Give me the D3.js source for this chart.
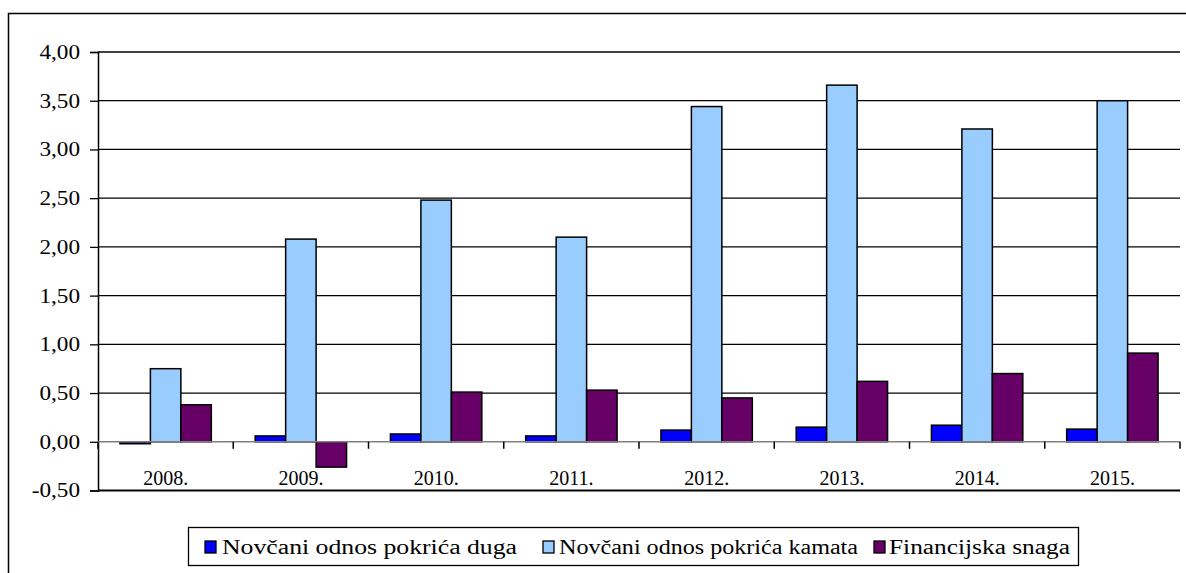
<!DOCTYPE html>
<html>
<head>
<meta charset="utf-8">
<script src="https://cdn.jsdelivr.net/npm/d3@7"></script>
<style>
  body { margin: 0; background: #fff; }
  svg { display: block; }
  svg text { font-family: "Liberation Serif", "Times New Roman", serif !important; fill: #000; }
</style>
</head>
<body>
<svg id="chart" width="1186" height="573"></svg>
<script>
var years = ['2008.', '2009.', '2010.', '2011.', '2012.', '2013.', '2014.', '2015.'];
var seriesNames = ['Novčani odnos pokrića duga', 'Novčani odnos pokrića kamata', 'Financijska snaga'];
var pokriceDuga = [-0.02, 0.06, 0.08, 0.06, 0.12, 0.15, 0.17, 0.13];
var pokriceKamata = [0.75, 2.08, 2.48, 2.10, 3.44, 3.66, 3.21, 3.50];
var financijskaSnaga = [0.38, -0.26, 0.51, 0.53, 0.45, 0.62, 0.70, 0.91];
var yTicks = [-0.5, 0, 0.5, 1, 1.5, 2, 2.5, 3, 3.5, 4];
var colors = ['#0000ff', '#99ccff', '#660066'];

var svg = d3.select('#chart');
var plotLeft = 98, plotRight = 1180, plotTop = 52, plotBottom = 490.5;

// outer frame, cut off at right and bottom like in the original
svg.append('rect')
    .attr('x', 8.5).attr('y', 13.5)
    .attr('width', 1200).attr('height', 600)
    .attr('fill', 'none').attr('stroke', '#000').attr('stroke-width', 1.5);

var y = d3.scaleLinear().domain([-0.5, 4]).range([plotBottom, plotTop]);
var x0 = d3.scaleBand().domain(years).range([plotLeft, plotRight]).paddingInner(0).paddingOuter(0);
var x1 = d3.scaleBand().domain([0, 1, 2]).range([0, x0.bandwidth()]).paddingInner(0).paddingOuter(0.72);

// gridlines
svg.append('g').selectAll('line')
    .data(yTicks.filter(function(d) { return d != 0 && d != -0.5; }))
    .join('line')
    .attr('x1', plotLeft).attr('x2', plotRight)
    .attr('y1', function(d) { return y(d); }).attr('y2', function(d) { return y(d); })
    .attr('stroke', '#000').attr('stroke-width', 1.3);

// y axis
var yAxis = d3.axisLeft(y).tickValues(yTicks).tickSize(8).tickPadding(10)
    .tickFormat(function(d) { return d3.format('.2f')(d).replace('.', ',').replace('\u2212', '-'); });
var gy = svg.append('g').attr('transform', 'translate(' + plotLeft + ',0)').call(yAxis);
gy.attr('font-family', null).attr('font-size', null);
gy.select('.domain').attr('stroke', '#000').attr('stroke-width', 1.5);
gy.selectAll('.tick line').attr('stroke', '#000').attr('stroke-width', 1.3);
gy.selectAll('.tick text').attr('font-size', 20).attr('fill', '#000')
    .each(function() {
        // labels in the original are a bit wider than plain Times
        var w = this.getComputedTextLength();
        d3.select(this).attr('textLength', w * 1.16).attr('lengthAdjust', 'spacingAndGlyphs');
    });

// bars
var data = [pokriceDuga, pokriceKamata, financijskaSnaga];
data.forEach(function(vals, s) {
    svg.append('g').selectAll('rect')
        .data(vals)
        .join('rect')
        .attr('x', function(d, i) { return x0(years[i]) + x1(s); })
        .attr('width', x1.bandwidth())
        .attr('y', function(d) { return y(Math.max(0, d)); })
        .attr('height', function(d) { return Math.abs(y(d) - y(0)); })
        .attr('fill', colors[s])
        .attr('stroke', '#000').attr('stroke-width', 1.5);
});

// zero line with category ticks
svg.append('line')
    .attr('x1', plotLeft).attr('x2', plotRight)
    .attr('y1', y(0)).attr('y2', y(0))
    .attr('stroke', '#808080').attr('stroke-width', 1.5);
svg.append('g').selectAll('line')
    .data(years.concat(['end']))
    .join('line')
    .attr('x1', function(d, i) { return plotLeft + i * x0.step(); })
    .attr('x2', function(d, i) { return plotLeft + i * x0.step(); })
    .attr('y1', y(0)).attr('y2', y(0) + 7)
    .attr('stroke', '#000').attr('stroke-width', 1.5);

// bottom line at -0.50
svg.append('line')
    .attr('x1', plotLeft).attr('x2', plotRight)
    .attr('y1', y(-0.5)).attr('y2', y(-0.5))
    .attr('stroke', '#000').attr('stroke-width', 2);

// category labels
svg.append('g').selectAll('text')
    .data(years)
    .join('text')
    .attr('x', function(d) { return x0(d) + x0.bandwidth() / 2; })
    .attr('y', 485)
    .attr('text-anchor', 'middle')
    .attr('font-size', 20)
    .text(function(d) { return d; });

// legend
var lg = svg.append('g');
lg.append('rect')
    .attr('x', 188.5).attr('y', 527.5).attr('width', 890).attr('height', 38)
    .attr('fill', '#fff').attr('stroke', '#000').attr('stroke-width', 1.3);
var legendPos = [[205, 222, 295], [543, 559, 299], [874, 889, 181]];
seriesNames.forEach(function(name, i) {
    lg.append('rect')
        .attr('x', legendPos[i][0]).attr('y', 541)
        .attr('width', 11).attr('height', 12)
        .attr('fill', colors[i]).attr('stroke', '#000').attr('stroke-width', 1.3);
    lg.append('text')
        .attr('x', legendPos[i][1]).attr('y', 554)
        .attr('font-size', 20)
        .attr('textLength', legendPos[i][2])
        .attr('lengthAdjust', 'spacingAndGlyphs')
        .text(name);
});
</script>
</body>
</html>
